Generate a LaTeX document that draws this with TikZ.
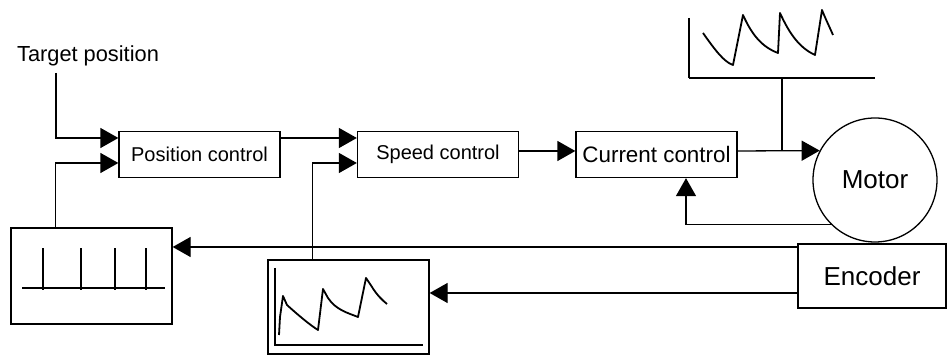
\documentclass[tikz,border=0pt]{standalone}
\usepackage{fontspec}
\setmainfont{Liberation Sans}
\usetikzlibrary{arrows.meta,calc}
\begin{document}
\begin{tikzpicture}[
    x=0.5pt, y=-0.5pt,   % une unité = un pixel de l'image
    line width=0.65pt,
    bloc/.style={draw, rectangle, inner sep=0pt, minimum width=80.5pt,
        minimum height=23pt, font=\fontsize{10}{12}\selectfont},
    fleche/.style={-{Triangle[length=9pt, width=10pt]}},
    courbe/.style={line width=0.9pt, line join=round}
]
\useasboundingbox (0,0) rectangle (949,356);

% Blocs de régulation
\node[anchor=base, font=\fontsize{10.9}{13}\selectfont] (consigne) at (88,62) {Target position};
\node[bloc] (position) at (199.5,154.5) {Position control};
\node[bloc] (vitesse) at (438,154.5) {Speed control};
\node[bloc, font=\fontsize{11.2}{13}\selectfont] (courant) at (656.5,154.5) {Current control};
\node[draw, circle, minimum size=62pt, inner sep=0pt,
    font=\fontsize{13}{15}\selectfont] (moteur) at (875,180) {Motor};
\node[bloc, minimum width=74pt, minimum height=32pt,
    font=\fontsize{13}{15}\selectfont] (codeur) at (872,276) {Encoder};
\node[bloc, minimum height=48pt] (impulsions) at (91.5,276) {};
\node[bloc, minimum height=47pt] (mesure) at (348.5,307) {};

% Liaisons
\coordinate (depart) at (56,73);
\draw[fleche] (depart) |- ($(position.west)+(0,-16.5)$);
\draw[fleche] ($(impulsions.north west)+(45,0)$) |- ($(position.west)+(0,8.5)$);
\draw[fleche] ($(position.east)+(0,-16.5)$) -- ($(vitesse.west)+(0,-16.5)$);
\draw[fleche] ($(mesure.north west)+(45,0)$) |- ($(vitesse.west)+(0,8.5)$);
\draw[fleche] ($(vitesse.east)+(0,-3.5)$) -- ($(courant.west)+(0,-3.5)$);
\draw[fleche] ($(courant.east)+(0,-3.5)$) -- (moteur.152);
\coordinate (axe) at (782,78);
\draw (axe) -- (axe |- moteur.152);
\draw[fleche] (moteur.225) -| ($(courant.south)+(29.5,0)$);
\coordinate (sortie1) at ($(codeur.west)+(0,-29)$);
\draw[fleche] (sortie1) -- (sortie1 -| impulsions.east);
\coordinate (sortie2) at ($(codeur.west)+(0,17)$);
\draw[fleche] (sortie2) -- (sortie2 -| mesure.east);

% Courant moteur
\draw (689,18) -- (689,78);
\draw[line width=0.8pt] (689,78) -- (875,78);
\draw[courbe] (703,33) .. controls (715,50) and (724,62) .. (733,65) -- (743,15)
    .. controls (752,35) and (762,47) .. (778,53) -- (780,13)
    .. controls (790,35) and (800,48) .. (815,55) -- (822,10)
    .. controls (826,20) and (830,28) .. (833,35);

% Impulsions du codeur
\draw[courbe] (22,288) -- (165,288);
\foreach \x in {43,81,115,146}
    \draw[courbe] (\x,290) -- (\x,248);

% Vitesse mesurée
\draw (275,268) -- (275,345) -- (423,345);
\draw[courbe] (279,335) -- (280,317) -- (283,296) -- (287,305)
    .. controls (298,315) and (310,325) .. (318,330) -- (323,289) -- (328,298)
    .. controls (336,310) and (348,313) .. (358,317) -- (366,278) -- (372,287)
    .. controls (377,295) and (382,300) .. (387,304);
\end{tikzpicture}
\end{document}
